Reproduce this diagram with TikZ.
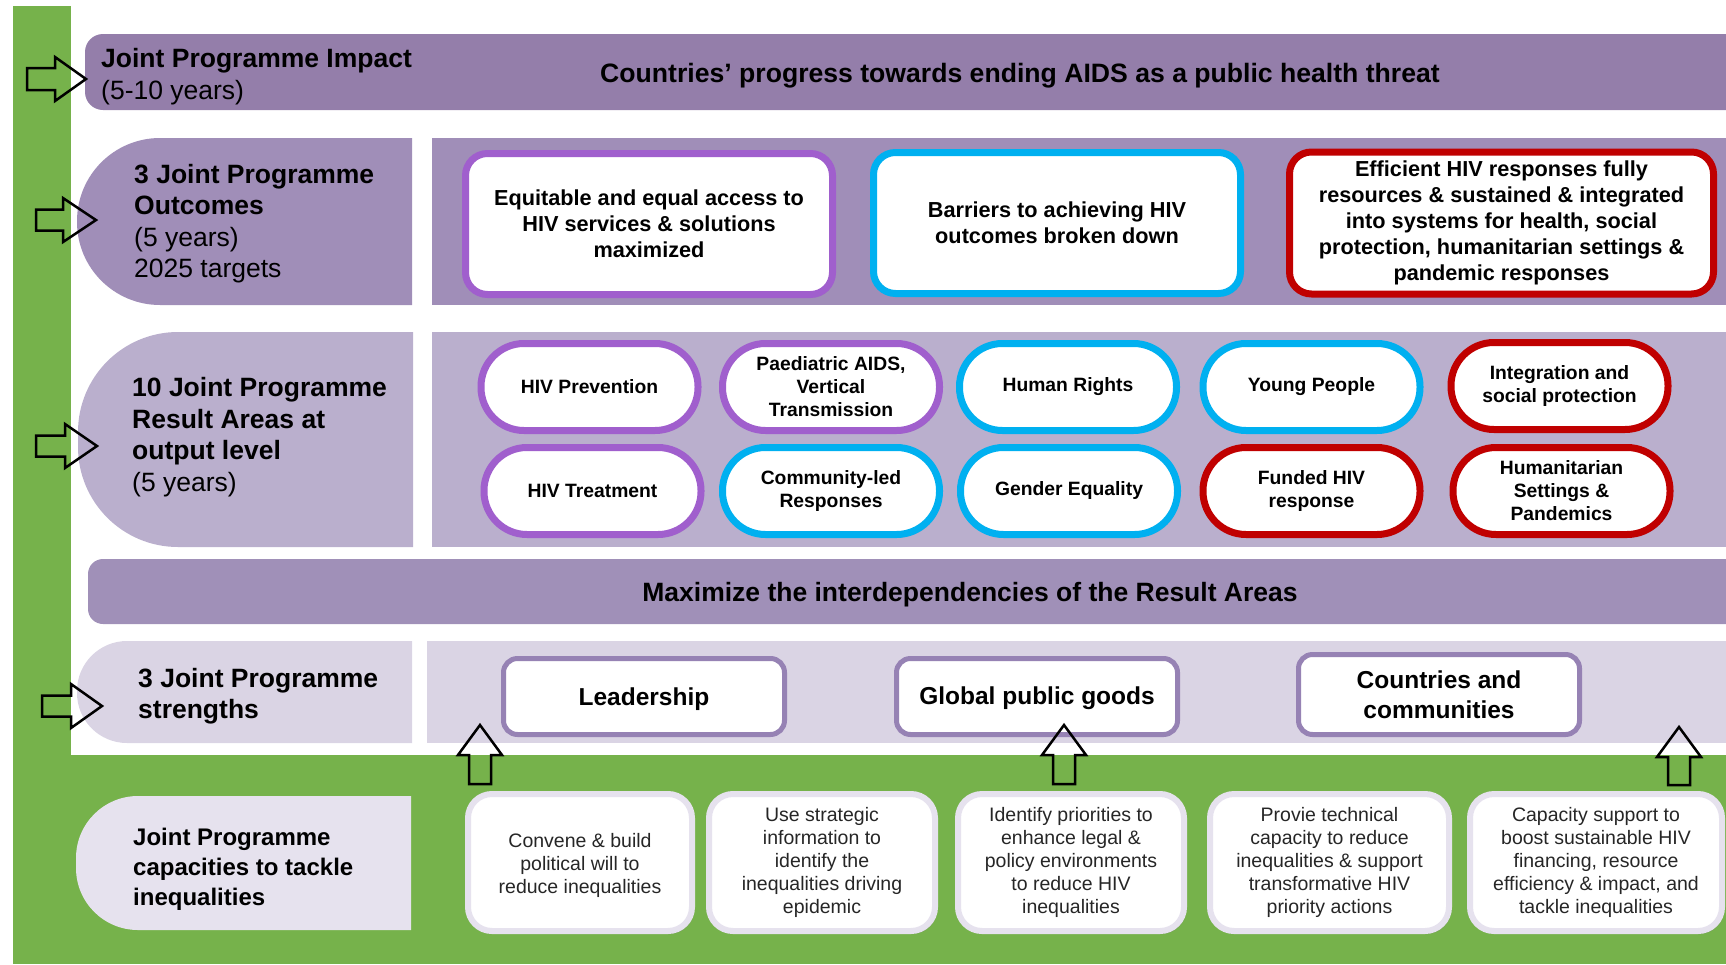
\documentclass[tikz,border=0pt]{standalone}
\usepackage{fontspec}
\setmainfont{Liberation Sans}
\usetikzlibrary{shadows}
\definecolor{grn}{RGB}{118,178,75}
\definecolor{impact}{RGB}{148,126,170}
\definecolor{outc}{RGB}{160,142,184}
\definecolor{resa}{RGB}{186,175,205}
\definecolor{maxb}{RGB}{160,144,184}
\definecolor{strg}{RGB}{218,212,228}
\definecolor{capc}{RGB}{230,226,238}
\definecolor{pur}{RGB}{160,95,205}
\definecolor{cyn}{RGB}{0,176,240}
\definecolor{rd}{RGB}{192,0,0}
\definecolor{sbord}{RGB}{150,130,180}
\begin{document}
\begin{tikzpicture}[x=1pt,y=-1pt,
  lbl/.style={anchor=west, align=left, inner sep=0pt, font=\fontsize{26.5}{31.5}\selectfont},
  shad/.style={drop shadow={opacity=0.25, shadow xshift=2pt, shadow yshift=-3pt}},
  outbox/.style={draw=#1, line width=7pt, fill=white, rounded corners=22pt, align=center, inner sep=0pt, font=\bfseries\fontsize{21.7}{26}\selectfont, shad},
  pill/.style={draw=#1, line width=7pt, fill=white, rounded corners=43pt, minimum width=217pt, minimum height=87pt, align=center, inner sep=0pt, font=\bfseries\fontsize{19.3}{23}\selectfont, shad},
  sbox/.style={draw=sbord, line width=5pt, fill=white, rounded corners=14pt, minimum width=281pt, align=center, inner sep=0pt, font=\bfseries\fontsize{24.5}{30}\selectfont},
  cbox/.style={draw=capc, line width=6pt, fill=white, rounded corners=24pt, minimum height=137pt, align=center, inner sep=0pt, text=black!85, font=\fontsize{19.5}{23}\selectfont, shad},
  arr/.style={draw=black, line width=2.5pt, line join=miter}
]
\useasboundingbox (0,0) rectangle (1726,964);
% green frame
\fill[grn] (13,6) rectangle (71,964);
\fill[grn] (13,755) rectangle (1726,964);
% bands
\fill[impact] (1726,34) -- (103,34) [rounded corners=18pt] -- (85,34) -- (85,110) [sharp corners] -- (1726,110) -- cycle;
\fill[outc] (412,138) [rounded corners=83pt] -- (77,138) -- (77,305) [sharp corners] -- (412,305) -- cycle;
\fill[outc] (432,138) rectangle (1726,305);
\fill[resa] (413,332) [rounded corners=100pt] -- (78,332) -- (78,547) [sharp corners] -- (413,547) -- cycle;
\fill[resa] (432,332) rectangle (1726,547);
\fill[maxb] (1726,559) [rounded corners=15pt] -- (88,559) -- (88,624) [sharp corners] -- (1726,624) -- cycle;
\fill[strg] (412,641) [rounded corners=50pt] -- (77,641) -- (77,743) [sharp corners] -- (412,743) -- cycle;
\fill[strg] (427,641) rectangle (1726,743);
\fill[capc] (411,796) [rounded corners=62pt] -- (76,796) -- (76,930) [sharp corners] -- (411,930) -- cycle;

% left labels
\node[lbl, font=\fontsize{26.5}{32}\selectfont] (limpact) at (101,77) {\textbf{Joint Programme Impact}\\(5-10 years)};
\node[lbl] (loutc) at (134,223.5) {\textbf{3 Joint Programme}\\\textbf{Outcomes}\\(5 years)\\2025 targets};
\node[lbl] (lres) at (132,437) {\textbf{10 Joint Programme}\\\textbf{Result Areas at}\\\textbf{output level}\\(5 years)};
\node[lbl] (lstr) at (138,696) {\textbf{3 Joint Programme}\\\textbf{strengths}};
\node[lbl, font=\fontsize{24}{30}\selectfont] (lcap) at (133,869) {\textbf{Joint Programme}\\\textbf{capacities to tackle}\\\textbf{inequalities}};

% titles
\node[inner sep=0pt, font=\bfseries\fontsize{26.6}{30}\selectfont] (title) at (1020,76) {Countries’ progress towards ending AIDS as a public health threat};
\node[inner sep=0pt, font=\bfseries\fontsize{26.5}{30}\selectfont] (maxt) at (970,595) {Maximize the interdependencies of the Result Areas};

% outcomes
\node[outbox=pur, minimum width=367pt, minimum height=141pt] (o1) at (649,224) {Equitable and equal access to\\HIV services \& solutions\\maximized};
\node[outbox=cyn, minimum width=367pt, minimum height=141pt] (o2) at (1057,223) {Barriers to achieving HIV\\outcomes broken down};
\node[outbox=rd, minimum width=424pt, minimum height=142pt] (o3) at (1501.5,223) {Efficient HIV responses fully\\resources \& sustained \& integrated\\into systems for health, social\\protection, humanitarian settings \&\\pandemic responses};

% result areas
\node[pill=pur] (r1) at (589.5,387) {HIV Prevention};
\node[pill=pur] (r2) at (831,387) {Paediatric AIDS,\\Vertical\\Transmission};
\node[pill=cyn] (r3) at (1068,387) {Human Rights};
\node[pill=cyn] (r4) at (1311.5,387) {Young People};
\node[pill=rd] (r5) at (1559.5,386) {Integration and\\social protection};
\node[pill=pur] (r6) at (592.5,491) {HIV Treatment};
\node[pill=cyn] (r7) at (831,491) {Community-led\\Responses};
\node[pill=cyn] (r8) at (1069,491) {Gender Equality};
\node[pill=rd] (r9) at (1311.5,491) {Funded HIV\\response};
\node[pill=rd] (r10) at (1561.5,491) {Humanitarian\\Settings \&\\Pandemics};

% strengths
\node[sbox, minimum height=76pt] (s1) at (644,696.5) {\raisebox{-3pt}[\height][\depth]{Leadership}};
\node[sbox, minimum height=76pt] (s2) at (1037,696.5) {\raisebox{-2pt}[\height][\depth]{Global public goods}};
\node[sbox, minimum height=80pt] (s3) at (1439,694.5) {Countries and\\communities};

% capacities
\node[cbox, minimum width=224pt] (c1) at (580,862.5) {\raisebox{-3pt}[\height][\depth]{\parbox{220pt}{\centering Convene \& build\\political will to\\reduce inequalities}}};
\node[cbox, minimum width=226pt] (c2) at (822,862.5) {Use strategic\\information to\\identify the\\inequalities driving\\epidemic};
\node[cbox, minimum width=226pt] (c3) at (1071,862.5) {Identify priorities to\\enhance legal \&\\policy environments\\to reduce HIV\\inequalities};
\node[cbox, minimum width=239pt] (c4) at (1329.5,862.5) {Provie technical\\capacity to reduce\\inequalities \& support\\transformative HIV\\priority actions};
\node[cbox, minimum width=252pt] (c5) at (1596,862.5) {Capacity support to\\boost sustainable HIV\\financing, resource\\efficiency \& impact, and\\tackle inequalities};

% right arrows
\draw[arr] (27,68) -- (55,68) -- (55,57) -- (86,79) -- (55,101) -- (55,90) -- (27,90) -- cycle;
\draw[arr] (36,209.5) -- (63,209.5) -- (63,198) -- (96,220) -- (63,242) -- (63,230.5) -- (36,230.5) -- cycle;
\draw[arr] (36,435.5) -- (65,435.5) -- (65,424) -- (97,446) -- (65,468) -- (65,456.5) -- (36,456.5) -- cycle;
\draw[arr] (42,695.5) -- (71,695.5) -- (71,684) -- (102,706) -- (71,728) -- (71,716.5) -- (42,716.5) -- cycle;
% up arrows
\draw[arr] (469,784) -- (469,755) -- (458,755) -- (480,725) -- (502,755) -- (491,755) -- (491,784) -- cycle;
\draw[arr] (1053,784) -- (1053,755) -- (1042,755) -- (1064,725) -- (1086,755) -- (1075,755) -- (1075,784) -- cycle;
\draw[arr] (1668,785) -- (1668,757) -- (1657,757) -- (1679,727) -- (1701,757) -- (1690,757) -- (1690,785) -- cycle;
\end{tikzpicture}
\end{document}
